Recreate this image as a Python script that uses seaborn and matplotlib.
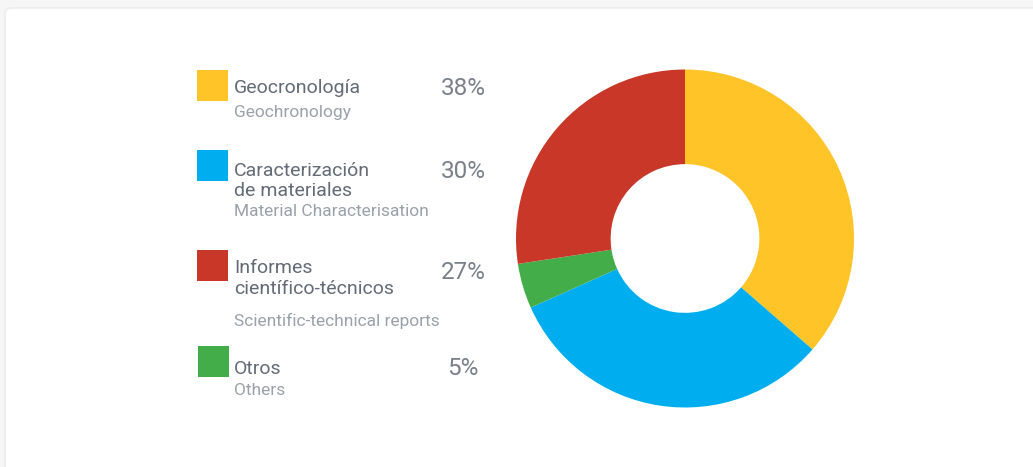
import matplotlib
matplotlib.use("Agg")
import matplotlib.pyplot as plt
import seaborn as sns
from matplotlib.patches import Rectangle, FancyBboxPatch

# Data
categories_es = ["Geocronología", "Caracterización\nde materiales", "Informes\ncientífico-técnicos", "Otros"]
categories_en = ["Geochronology", "Material Characterisation", "Scientific-technical reports", "Others"]
pct_labels = ["38%", "30%", "27%", "5%"]
# wedge shares as drawn in the donut (clockwise from top)
wedge_order = ["Geocronología", "Caracterización", "Otros", "Informes"]
wedge_values = [36.4, 31.9, 4.3, 27.4]
colors = {"Geocronología": "#FFC428", "Caracterización": "#00AEEF",
          "Otros": "#43AD4A", "Informes": "#C83728"}
legend_colors = ["#FFC428", "#00AEEF", "#C83728", "#43AD4A"]

sns.set_theme(style="white")
plt.rcParams["font.family"] = ["Roboto", "DejaVu Sans"]

W, H = 1033, 467
fig = plt.figure(figsize=(W / 100, H / 100), dpi=100, facecolor="#f6f6f6")

# background card
bg = fig.add_axes([0, 0, 1, 1])
bg.set_xlim(0, W)
bg.set_ylim(H, 0)
bg.axis("off")
bg.add_patch(FancyBboxPatch((5, 8), W + 20, H + 20, boxstyle="round,pad=0,rounding_size=6",
                            facecolor="white", edgecolor="#ececec", linewidth=1.2))

# donut
cx, cy, r = 685, 238.5, 169
ax = fig.add_axes([(cx - r) / W, (H - cy - r) / H, 2 * r / W, 2 * r / H])
ax.pie(wedge_values, colors=[colors[k] for k in wedge_order], startangle=90,
       counterclock=False, radius=1, wedgeprops=dict(width=0.56, linewidth=0))
ax.set_xlim(-1, 1)
ax.set_ylim(-1, 1)
ax.set_aspect("auto")
ax.axis("off")

# legend layout (pixel positions)
sq_x = [197, 197, 197, 198]
sq_y = [70, 150, 250, 346]
title_base = [93, 176, 273, 374]
sub_base = [117, 216, 326, 395]
pct_base = [95, 178, 279, 375]
pct_right = [486, 486, 486, 479]

title_col = "#636b77"
sub_col = "#9ba1aa"
pct_col = "#79808a"

lay = fig.add_axes([0, 0, 1, 1])
lay.set_xlim(0, W)
lay.set_ylim(H, 0)
lay.axis("off")
lay.patch.set_alpha(0)

for i in range(4):
    lay.add_patch(Rectangle((sq_x[i], sq_y[i]), 31, 31, facecolor=legend_colors[i], linewidth=0))
    lines = categories_es[i].split("\n")
    for j, line in enumerate(lines):
        lay.text(234, title_base[i] + j * 20.5, line, fontsize=14, color=title_col,
                 va="baseline", ha="left")
    lay.text(234, sub_base[i], categories_en[i], fontsize=12.5, color=sub_col,
             va="baseline", ha="left")
    lay.text(pct_right[i], pct_base[i], pct_labels[i], fontsize=17.5, color=pct_col,
             va="baseline", ha="right")

fig.savefig("out.png", dpi=100, facecolor=fig.get_facecolor())
